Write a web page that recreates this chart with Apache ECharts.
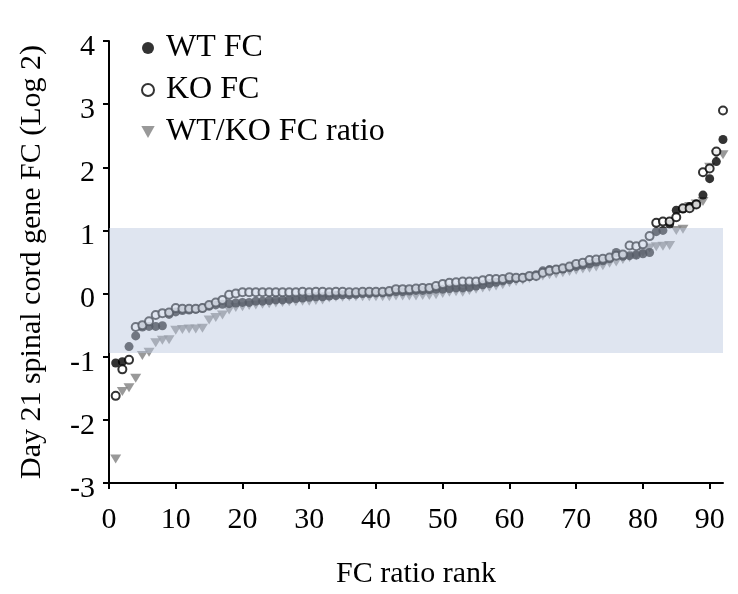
<!DOCTYPE html>
<html>
<head>
<meta charset="utf-8">
<script src="https://cdn.jsdelivr.net/npm/echarts@6/dist/echarts.min.js"></script>
<style>html,body{margin:0;padding:0;background:#fff}#c{width:738px;height:594px}</style>
</head>
<body>
<div id="c"></div>
<script>
var ranks = [1,2,3,4,5,6,7,8,9,10,11,12,13,14,15,16,17,18,19,20,21,22,23,24,25,26,27,28,29,30,31,32,33,34,35,36,37,38,39,40,41,42,43,44,45,46,47,48,49,50,51,52,53,54,55,56,57,58,59,60,61,62,63,64,65,66,67,68,69,70,71,72,73,74,75,76,77,78,79,80,81,82,83,84,85,86,87,88,89,90,91,92];
var wtFC = [-1.10,-1.08,-0.84,-0.67,-0.53,-0.52,-0.52,-0.51,-0.33,-0.29,-0.27,-0.26,-0.25,-0.23,-0.20,-0.18,-0.17,-0.16,-0.15,-0.14,-0.14,-0.12,-0.12,-0.11,-0.10,-0.10,-0.09,-0.08,-0.07,-0.06,-0.05,-0.05,-0.04,-0.03,-0.02,-0.02,-0.01,0.00,0.00,0.01,0.01,0.02,0.03,0.03,0.04,0.05,0.05,0.06,0.07,0.07,0.08,0.09,0.09,0.10,0.12,0.14,0.16,0.18,0.20,0.22,0.24,0.25,0.27,0.30,0.36,0.38,0.38,0.39,0.41,0.43,0.45,0.47,0.50,0.52,0.55,0.65,0.59,0.60,0.61,0.63,0.65,0.98,1.00,1.10,1.32,1.34,1.38,1.42,1.56,1.82,2.09,2.44];
var koFC = [-1.62,-1.20,-1.05,-0.53,-0.50,-0.44,-0.34,-0.31,-0.30,-0.23,-0.24,-0.24,-0.24,-0.23,-0.18,-0.14,-0.10,-0.02,0.00,0.02,0.02,0.02,0.02,0.02,0.02,0.02,0.02,0.02,0.03,0.02,0.03,0.03,0.02,0.03,0.03,0.02,0.02,0.03,0.03,0.03,0.03,0.04,0.07,0.07,0.07,0.08,0.09,0.09,0.12,0.15,0.17,0.18,0.19,0.19,0.19,0.21,0.23,0.23,0.23,0.26,0.25,0.25,0.28,0.28,0.33,0.36,0.38,0.40,0.43,0.47,0.49,0.53,0.54,0.55,0.57,0.60,0.62,0.76,0.75,0.78,0.91,1.12,1.14,1.14,1.21,1.35,1.35,1.41,1.92,1.98,2.25,2.90];
var ratioFC = [-2.62,-1.55,-1.49,-1.34,-0.98,-0.93,-0.78,-0.74,-0.73,-0.58,-0.57,-0.56,-0.56,-0.55,-0.42,-0.38,-0.34,-0.26,-0.22,-0.21,-0.19,-0.18,-0.17,-0.16,-0.15,-0.14,-0.13,-0.13,-0.12,-0.12,-0.11,-0.10,-0.07,-0.06,-0.06,-0.05,-0.05,-0.05,-0.05,-0.05,-0.05,-0.05,-0.04,-0.04,-0.04,-0.04,-0.03,-0.03,-0.02,0.00,0.02,0.03,0.02,0.05,0.07,0.09,0.10,0.12,0.14,0.17,0.19,0.21,0.24,0.26,0.28,0.30,0.31,0.33,0.35,0.37,0.39,0.40,0.42,0.44,0.48,0.50,0.54,0.57,0.60,0.65,0.72,0.74,0.75,0.76,1.00,1.02,1.38,1.42,1.46,2.00,2.20,2.20];
var xTicks = [0,10,20,30,40,50,60,70,80,90];
var yTicks = [-3,-2,-1,0,1,2,3,4];
var bandRange = [-0.94, 1.04];
var seriesNames = ['WT FC','KO FC','WT/KO FC ratio'];

function pairs(vals){ return ranks.map(function(r,i){ return [r, vals[i]]; }); }
var FONT = 'Liberation Serif';
var chart = echarts.init(document.getElementById('c'), null, {renderer:'canvas'});
var tri = 'path://M0,0 L10,0 L5,9 Z';
chart.setOption({
  animation:false,
  backgroundColor:'#fff',
  textStyle:{fontFamily:FONT},
  grid:{left:109,right:15,top:41,bottom:111,containLabel:false},
  legend:{
    orient:'vertical', left:136, top:27, itemGap:10, itemWidth:14, itemHeight:12,
    textStyle:{fontFamily:FONT,fontSize:32,color:'#000',padding:[0,0,0,6]},
    data:[
      {name:seriesNames[0], icon:'circle'},
      {name:seriesNames[1], icon:'emptyCircle'},
      {name:seriesNames[2], icon:tri}
    ]
  },
  xAxis:{
    type:'value', min:0, max:92, interval:10,
    name:'FC ratio rank', nameLocation:'middle', nameGap:76,
    nameTextStyle:{fontFamily:FONT,fontSize:30,color:'#000'},
    axisLine:{show:true,onZero:false,lineStyle:{color:'#000',width:2}},
    axisTick:{show:true,length:6,lineStyle:{color:'#000',width:2},customValues:xTicks},
    axisLabel:{fontFamily:FONT,fontSize:30,color:'#000',margin:22,customValues:xTicks},
    splitLine:{show:false}
  },
  yAxis:{
    type:'value', min:-3, max:4, interval:1,
    name:'Day 21 spinal cord gene FC (Log 2)', nameLocation:'middle', nameGap:62,
    nameTextStyle:{fontFamily:FONT,fontSize:30,color:'#000'},
    axisLine:{show:true,onZero:false,lineStyle:{color:'#000',width:2}},
    axisTick:{show:true,length:6,lineStyle:{color:'#000',width:2},customValues:yTicks},
    axisLabel:{fontFamily:FONT,fontSize:30,color:'#000',margin:14,verticalAlign:'top',lineHeight:12,customValues:yTicks},
    splitLine:{show:false}
  },
  series:[
    {name:seriesNames[2], type:'scatter', z:2, symbol:tri, symbolSize:[11,9],
     itemStyle:{color:'#808080'}, data:pairs(ratioFC)},
    {name:seriesNames[0], type:'scatter', z:3, symbol:'circle', symbolSize:9,
     itemStyle:{color:'#000'}, data:pairs(wtFC)},
    {name:seriesNames[1], type:'scatter', z:4, symbol:'emptyCircle', symbolSize:8,
     itemStyle:{color:'#000',borderColor:'#000',borderWidth:2}, data:pairs(koFC)},
    {name:'band', type:'scatter', z:10, data:[], silent:true,
     markArea:{silent:true, z:10, itemStyle:{color:'rgba(185,198,222,0.46)'},
       data:[[{xAxis:0,yAxis:bandRange[0]},{xAxis:92.3,yAxis:bandRange[1]}]]}}
  ]
});
</script>
</body>
</html>
